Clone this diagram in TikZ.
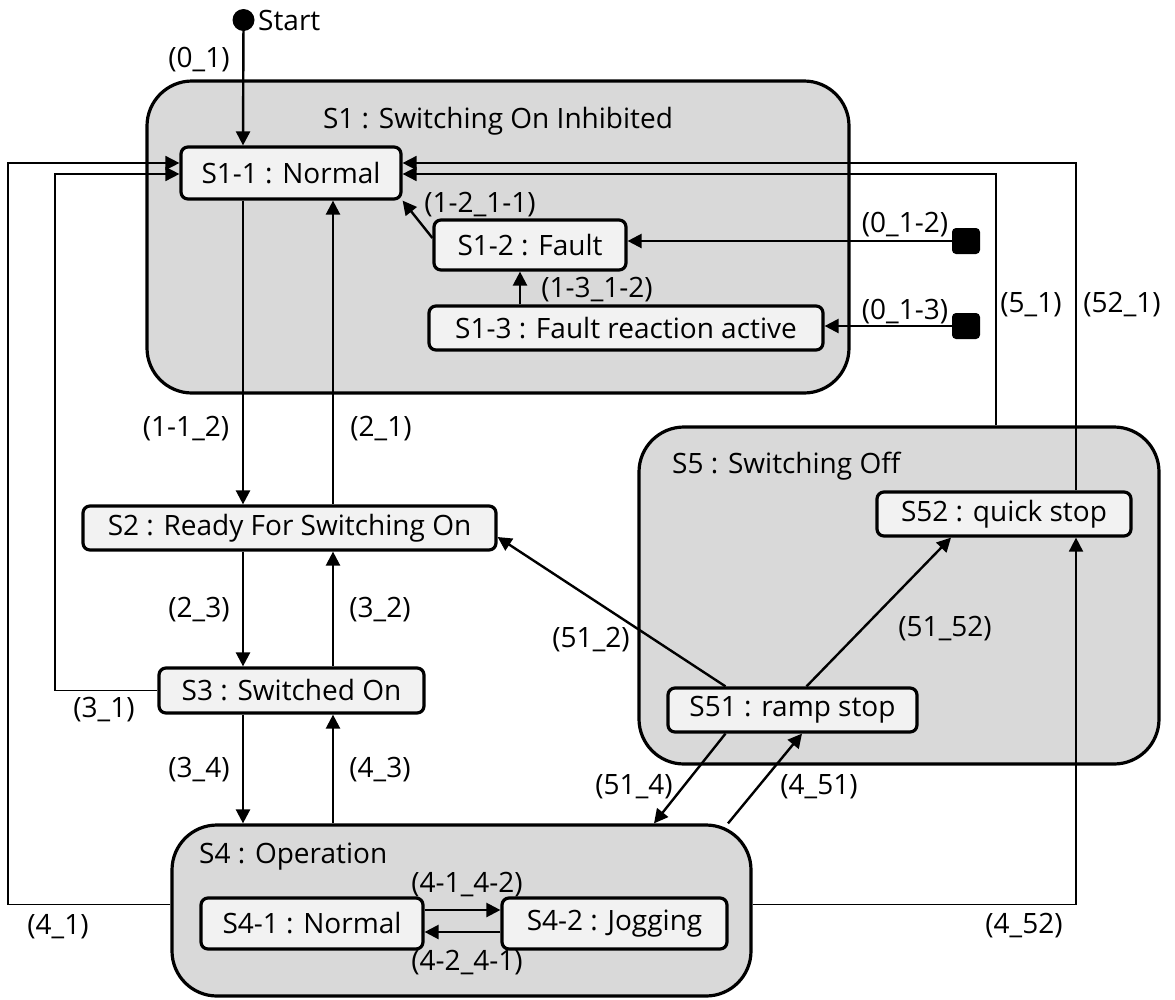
\documentclass[tikz,border=0pt]{standalone}
\usepackage{fontspec}
\setmainfont{Open Sans}
\usetikzlibrary{arrows.meta}
\definecolor{contfill}{HTML}{D9D9D9}
\definecolor{boxfill}{HTML}{F2F2F2}
\tikzset{
  every node/.style={font=\fontsize{28}{32}\selectfont},
  container/.style={draw, line width=3.2pt, fill=contfill, rounded corners=45pt, inner sep=0pt},
  statebox/.style={draw, line width=3.2pt, fill=boxfill, rounded corners=7pt, inner sep=0pt},
  lbl/.style={inner sep=0pt},
  tip/.style={-{Triangle[length=14pt,width=14pt]}},
  tr/.style={line width=2.4pt, tip},
  route/.style={line width=1.8pt, tip},
}
\begin{document}
\begin{tikzpicture}[x=1pt,y=-1pt]
\useasboundingbox (0,0) rectangle (1175,999);
% containers
\node[container, minimum width=702pt, minimum height=312pt] (S1) at (498,237) {};
\node[container, minimum width=520pt, minimum height=337pt] (S5) at (899,595.5) {};
\node[container, minimum width=579pt, minimum height=171pt] (S4) at (461.5,910.5) {};
% titles
\node[lbl] (t1) at (498,121) {S1 : Switching On Inhibited};
\node[lbl, anchor=west] (t5) at (672,466) {S5 : Switching Off};
\node[lbl, anchor=west] (t4) at (199,857) {S4 : Operation};
% states
\node[statebox, minimum width=220pt, minimum height=52pt] (S11) at (291,173) {S1-1 : Normal};
\node[statebox, minimum width=192pt, minimum height=50pt] (S12) at (530,245) {S1-2 : Fault};
\node[statebox, minimum width=394pt, minimum height=44pt] (S13) at (626,328) {S1-3 : Fault reaction active};
\node[statebox, minimum width=413pt, minimum height=44pt] (S2) at (289.5,528) {S2 : Ready For Switching On};
\node[statebox, minimum width=265pt, minimum height=45pt] (S3) at (291.5,690.5) {S3 : Switched On};
\node[statebox, minimum width=222pt, minimum height=51pt] (S41) at (312,923.5) {S4-1 : Normal};
\node[statebox, minimum width=225pt, minimum height=51pt] (S42) at (614.5,923.5) {S4-2 : Jogging};
\node[statebox, minimum width=249pt, minimum height=44pt] (S51) at (792.5,710) {S51 : ramp stop};
\node[statebox, minimum width=254pt, minimum height=44pt] (S52) at (1004,514) {S52 : quick stop};
% start and entry points
\node[circle, fill=black, minimum size=22pt, inner sep=0pt] (start) at (243.5,20) {};
\node[lbl, anchor=west] (startlbl) at (258,20) {Start};
\node[fill=black, rounded corners=4pt, minimum width=28pt, minimum height=26pt, inner sep=0pt] (sq1) at (966,241) {};
\node[fill=black, rounded corners=4pt, minimum width=28pt, minimum height=26pt, inner sep=0pt] (sq2) at (966,326) {};
% helper coordinates
\coordinate (xa) at (243,0);
\coordinate (xb) at (333,0);
\coordinate (xc) at (520,0);
\coordinate (L1) at (8,0);
\coordinate (L2) at (55,0);
\coordinate (R1) at (1076,0);
\coordinate (R2) at (996,0);
\coordinate (s4w) at ([yshift=6pt]S4.west);
\coordinate (s4e) at ([yshift=6pt]S4.east);
\coordinate (s11wa) at ([yshift=10pt]S11.west);
\coordinate (s11wb) at ([yshift=-1pt]S11.west);
\coordinate (s11ea) at ([yshift=10pt]S11.east);
\coordinate (s11eb) at ([yshift=-1pt]S11.east);
% connectors
\draw[tr] (start) -- (S11.north -| xa);
\draw[tr] (S11.south -| xa) -- (S2.north -| xa);
\draw[tr] (S2.north -| xb) -- (S11.south -| xb);
\draw[tr] (S2.south -| xa) -- (S3.north -| xa);
\draw[tr] (S3.north -| xb) -- (S2.south -| xb);
\draw[tr] (S3.south -| xa) -- (S4.north -| xa);
\draw[tr] (S4.north -| xb) -- (S3.south -| xb);
\draw[tr] ([yshift=7pt]S12.west) -- (S11.south east);
\draw[tr] (S13.north -| xc) -- (S12.south -| xc);
\draw[tr] (sq1.west) -- (S12.east |- sq1.west);
\draw[tr] (sq2.west) -- (S13.east |- sq2.west);
\draw[route] (S3.west) -- (S3.west -| L2) -- (L2 |- s11wb) -- (s11wb);
\draw[route] (s4w) -- (s4w -| L1) -- (L1 |- s11wa) -- (s11wa);
\draw[route] (S5.north -| R2) -- (R2 |- s11eb) -- (s11eb);
\draw[route] (S52.north -| R1) -- (R1 |- s11ea) -- (s11ea);
\draw[route] (s4e) -- (s4e -| R1) -- (S52.south -| R1);
\draw[tr] ([xshift=14pt]S51.north) -- ([xshift=-53pt]S52.south);
\draw[tr] ([xshift=-67pt]S51.north) -- ([yshift=-9pt]S2.east);
\draw[tr] ([xshift=-67pt]S51.south) -- ([xshift=192.5pt]S4.north);
\draw[tr] ([xshift=266.5pt]S4.north) -- ([xshift=9.5pt]S51.south);
\draw[tr] ([yshift=13.5pt]S41.east) -- ([yshift=13.5pt]S42.west);
\draw[tr] ([yshift=-8.5pt]S42.west) -- ([yshift=-8.5pt]S41.east);
% labels
\node[lbl] (l01) at (199,60) {(0\_1)};
\node[lbl] (l1211) at (480,205) {(1-2\_1-1)};
\node[lbl] (l1312) at (597,290) {(1-3\_1-2)};
\node[lbl] (l012) at (905,225) {(0\_1-2)};
\node[lbl] (l013) at (905,312) {(0\_1-3)};
\node[lbl] (l51) at (1031,305) {(5\_1)};
\node[lbl] (l521) at (1122,305) {(52\_1)};
\node[lbl] (l112) at (186,429) {(1-1\_2)};
\node[lbl] (l21) at (381,429) {(2\_1)};
\node[lbl] (l23) at (199,610) {(2\_3)};
\node[lbl] (l32) at (380,610) {(3\_2)};
\node[lbl] (l31) at (104,710) {(3\_1)};
\node[lbl] (l34) at (199,770) {(3\_4)};
\node[lbl] (l43) at (380,770) {(4\_3)};
\node[lbl] (l512) at (591,640) {(51\_2)};
\node[lbl] (l5152) at (945,629) {(51\_52)};
\node[lbl] (l514) at (634,787) {(51\_4)};
\node[lbl] (l451) at (819,787) {(4\_51)};
\node[lbl] (l4142) at (467,885) {(4-1\_4-2)};
\node[lbl] (l4241) at (467,963) {(4-2\_4-1)};
\node[lbl] (l41) at (58,927) {(4\_1)};
\node[lbl] (l452) at (1024,926) {(4\_52)};
\end{tikzpicture}
\end{document}
